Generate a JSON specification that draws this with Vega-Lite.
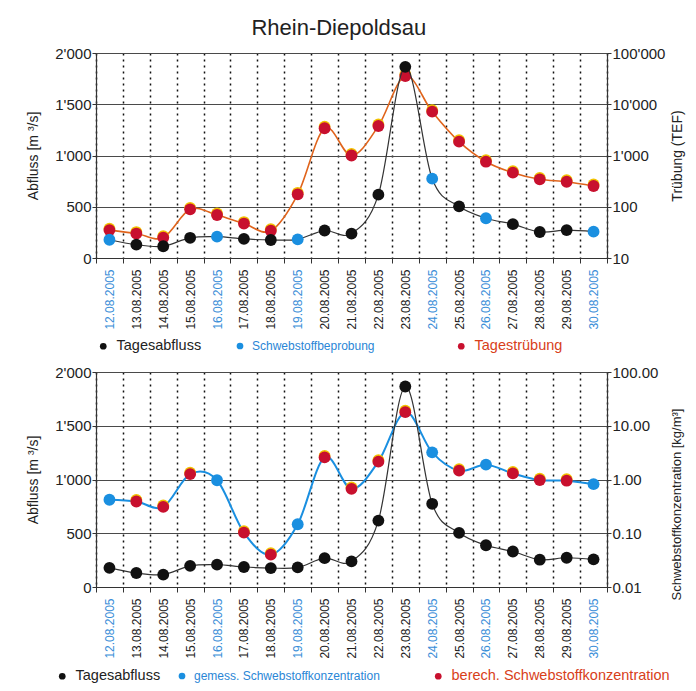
{
  "$schema": "https://vega.github.io/schema/vega-lite/v6.json",
  "background": "white",
  "padding": {"left": 26, "top": 17, "right": 5, "bottom": 5},
  "title": {"text": "Rhein-Diepoldsau", "fontSize": 22, "font": "Liberation Sans", "fontWeight": "normal", "anchor": "middle", "color": "#222222", "offset": 6, "dx": -17},
  "datasets": {
    "tage": [
      {"tag": "12.08.2005", "abfluss": 178, "truebung": 35, "konzentration": 0.42, "messung": "gemessen"},
      {"tag": "13.08.2005", "abfluss": 130, "truebung": 30, "konzentration": 0.39, "messung": "berechnet"},
      {"tag": "14.08.2005", "abfluss": 115, "truebung": 25, "konzentration": 0.31, "messung": "berechnet"},
      {"tag": "15.08.2005", "abfluss": 197, "truebung": 89, "konzentration": 1.26, "messung": "berechnet"},
      {"tag": "16.08.2005", "abfluss": 208, "truebung": 69, "konzentration": 0.97, "messung": "gemessen"},
      {"tag": "17.08.2005", "abfluss": 186, "truebung": 47, "konzentration": 0.103, "messung": "berechnet"},
      {"tag": "18.08.2005", "abfluss": 176, "truebung": 34, "konzentration": 0.04, "messung": "berechnet"},
      {"tag": "19.08.2005", "abfluss": 182, "truebung": 175, "konzentration": 0.147, "messung": "gemessen"},
      {"tag": "20.08.2005", "abfluss": 268, "truebung": 3400, "konzentration": 2.58, "messung": "berechnet"},
      {"tag": "21.08.2005", "abfluss": 238, "truebung": 1000, "konzentration": 0.67, "messung": "berechnet"},
      {"tag": "22.08.2005", "abfluss": 618, "truebung": 3770, "konzentration": 2.15, "messung": "berechnet"},
      {"tag": "23.08.2005", "abfluss": 1865, "truebung": 35600, "konzentration": 17.9, "messung": "berechnet"},
      {"tag": "24.08.2005", "abfluss": 774, "truebung": 7160, "konzentration": 3.2, "messung": "gemessen"},
      {"tag": "25.08.2005", "abfluss": 504, "truebung": 1860, "konzentration": 1.46, "messung": "berechnet"},
      {"tag": "26.08.2005", "abfluss": 388, "truebung": 757, "konzentration": 1.89, "messung": "gemessen"},
      {"tag": "27.08.2005", "abfluss": 330, "truebung": 462, "konzentration": 1.3, "messung": "berechnet"},
      {"tag": "28.08.2005", "abfluss": 254, "truebung": 343, "konzentration": 0.975, "messung": "berechnet"},
      {"tag": "29.08.2005", "abfluss": 272, "truebung": 308, "konzentration": 0.95, "messung": "berechnet"},
      {"tag": "30.08.2005", "abfluss": 257, "truebung": 254, "konzentration": 0.82, "messung": "gemessen"}
    ]
  },
  "data": {"name": "tage"},
  "spacing": 12,
  "vconcat": [
    {
      "width": 511,
      "height": 205,
      "encoding": {
        "x": {
          "field": "tag", "type": "ordinal",
          "scale": {"type": "band", "paddingInner": 0, "paddingOuter": 0,
            "domain": ["12.08.2005","13.08.2005","14.08.2005","15.08.2005","16.08.2005","17.08.2005","18.08.2005","19.08.2005","20.08.2005","21.08.2005","22.08.2005","23.08.2005","24.08.2005","25.08.2005","26.08.2005","27.08.2005","28.08.2005","29.08.2005","30.08.2005"]},
          "axis": {
            "title": null, "labelAngle": 270, "labelFontSize": 12, "tickBand": "extent", "tickSize": 5, "labelPadding": 6,
            "grid": true, "gridDash": [2, 4], "gridColor": "#111111", "gridWidth": 1.5,
            "labelColor": {"condition": {"test": "indexof(['12.08.2005','16.08.2005','19.08.2005','24.08.2005','26.08.2005','30.08.2005'], datum.value) >= 0", "value": "#3a8ed8"}, "value": "#222222"}
          }
        }
      },
      "layer": [
        {
          "encoding": {
            "y": {"field": "truebung", "type": "quantitative",
              "scale": {"type": "log", "domain": [10, 100000]},
              "axis": {"orient": "right", "values": [10, 100, 1000, 10000, 100000], "grid": false,
                "labelExpr": "replace(format(datum.value, ','), ',', \"'\")",
                "title": "Trübung (TEF)", "titleAngle": 270, "titleFontSize": 14, "titlePadding": 20}}
          },
          "layer": [
            {"mark": {"type": "line", "color": "#e0641c", "strokeWidth": 1.6, "interpolate": "cardinal"}},
            {"mark": {"type": "circle", "size": 140, "color": "#f2c200", "opacity": 1}, "encoding": {"yOffset": {"value": -1.5}}},
            {"mark": {"type": "point", "filled": true, "size": 140, "color": "#c8102e", "opacity": 1},
              "encoding": {"shape": {"datum": "Tagestrübung", "scale": {"range": ["circle"]},
                "legend": {"orient": "none", "legendX": 358, "legendY": 286, "title": null, "symbolFillColor": "#c8102e", "symbolStrokeWidth": 0, "symbolSize": 45, "labelFontSize": 14.5, "labelColor": "#d8401a", "labelOffset": 6}}}}
          ]
        },
        {
          "encoding": {
            "y": {"field": "abfluss", "type": "quantitative",
              "scale": {"domain": [0, 2000]},
              "axis": {"orient": "left", "values": [0, 500, 1000, 1500, 2000], "grid": true,
                "labelExpr": "replace(format(datum.value, ','), ',', \"'\")",
                "title": "Abfluss [m ³/s]", "titlePadding": 14}}
          },
          "layer": [
            {"mark": {"type": "line", "color": "#333333", "strokeWidth": 1.2, "interpolate": "cardinal"}},
            {"transform": [{"filter": "datum.messung == 'berechnet'"}],
              "mark": {"type": "circle", "size": 140, "opacity": 1},
              "encoding": {"color": {"datum": "Tagesabfluss",
                "scale": {"domain": ["Tagesabfluss"], "range": ["#111111"]},
                "legend": {"orient": "none", "legendX": 0, "legendY": 286, "title": null, "symbolType": "circle", "symbolSize": 45, "symbolStrokeWidth": 0, "labelOffset": 6, "labelFontSize": 14.5, "labelColor": "#222222"}}}},
            {"transform": [{"filter": "datum.messung == 'gemessen'"}],
              "mark": {"type": "circle", "size": 140, "color": "#1a8fe0"},
              "encoding": {"opacity": {"datum": "Schwebstoffbeprobung", "scale": {"range": [1]},
                "legend": {"orient": "none", "legendX": 138, "legendY": 287, "title": null, "symbolType": "circle", "symbolFillColor": "#1a8fe0", "symbolSize": 45, "symbolStrokeWidth": 0, "labelOffset": 6, "labelFontSize": 12, "labelColor": "#2a86d6"}}}}
          ]
        }
      ],
      "resolve": {"scale": {"y": "independent"}}
    },
    {
      "width": 511,
      "height": 215,
      "encoding": {
        "x": {
          "field": "tag", "type": "ordinal",
          "scale": {"type": "band", "paddingInner": 0, "paddingOuter": 0,
            "domain": ["12.08.2005","13.08.2005","14.08.2005","15.08.2005","16.08.2005","17.08.2005","18.08.2005","19.08.2005","20.08.2005","21.08.2005","22.08.2005","23.08.2005","24.08.2005","25.08.2005","26.08.2005","27.08.2005","28.08.2005","29.08.2005","30.08.2005"]},
          "axis": {
            "title": null, "labelAngle": 270, "labelFontSize": 12, "tickBand": "extent", "tickSize": 5, "labelPadding": 6,
            "grid": true, "gridDash": [2, 4], "gridColor": "#111111", "gridWidth": 1.5,
            "labelColor": {"condition": {"test": "indexof(['12.08.2005','16.08.2005','19.08.2005','24.08.2005','26.08.2005','30.08.2005'], datum.value) >= 0", "value": "#3a8ed8"}, "value": "#222222"}
          }
        }
      },
      "layer": [
        {
          "encoding": {
            "y": {"field": "konzentration", "type": "quantitative",
              "scale": {"type": "log", "domain": [0.01, 100]},
              "axis": {"orient": "right", "values": [0.01, 0.1, 1, 10, 100], "grid": false, "format": ".2f",
                "title": "Schwebstoffkonzentration  [kg/m³]", "titleAngle": 270, "titleFontSize": 13, "titleY": 132, "titlePadding": 26}}
          },
          "layer": [
            {"mark": {"type": "line", "color": "#1a8fe0", "strokeWidth": 2, "interpolate": "cardinal"}},
            {"transform": [{"filter": "datum.messung == 'gemessen'"}],
              "mark": {"type": "circle", "size": 140, "color": "#1a8fe0"},
              "encoding": {"opacity": {"datum": "gemess. Schwebstoffkonzentration", "scale": {"range": [1]},
                "legend": {"orient": "none", "legendX": 80, "legendY": 298, "title": null, "symbolType": "circle", "symbolFillColor": "#1a8fe0", "symbolSize": 45, "symbolStrokeWidth": 0, "labelOffset": 6, "labelFontSize": 12, "labelColor": "#2a86d6", "labelLimit": 400}}}},
            {"transform": [{"filter": "datum.messung == 'berechnet'"}],
              "mark": {"type": "circle", "size": 140, "color": "#f2c200", "opacity": 1}, "encoding": {"yOffset": {"value": -1.5}}},
            {"transform": [{"filter": "datum.messung == 'berechnet'"}],
              "mark": {"type": "point", "filled": true, "size": 140, "color": "#c8102e", "opacity": 1},
              "encoding": {"shape": {"datum": "berech. Schwebstoffkonzentration", "scale": {"range": ["circle"]},
                "legend": {"orient": "none", "legendX": 335, "legendY": 297, "title": null, "symbolFillColor": "#c8102e", "symbolStrokeWidth": 0, "symbolSize": 45, "labelFontSize": 14.5, "labelColor": "#d8401a", "labelOffset": 6, "labelLimit": 400}}}}
          ]
        },
        {
          "encoding": {
            "y": {"field": "abfluss", "type": "quantitative",
              "scale": {"domain": [0, 2000]},
              "axis": {"orient": "left", "values": [0, 500, 1000, 1500, 2000], "grid": true,
                "labelExpr": "replace(format(datum.value, ','), ',', \"'\")",
                "title": "Abfluss [m ³/s]", "titlePadding": 14}}
          },
          "layer": [
            {"mark": {"type": "line", "color": "#333333", "strokeWidth": 1.2, "interpolate": "cardinal"}},
            {"mark": {"type": "circle", "size": 140, "opacity": 1},
              "encoding": {"color": {"datum": "Tagesabfluss",
                "scale": {"domain": ["Tagesabfluss"], "range": ["#111111"]},
                "legend": {"orient": "none", "legendX": -41, "legendY": 297, "title": null, "symbolType": "circle", "symbolSize": 45, "symbolStrokeWidth": 0, "labelOffset": 6, "labelFontSize": 14.5, "labelColor": "#222222"}}}}
          ]
        }
      ],
      "resolve": {"scale": {"y": "independent"}}
    }
  ],
  "resolve": {"scale": {"color": "independent", "shape": "independent", "opacity": "independent"}, "legend": {"color": "independent", "shape": "independent", "opacity": "independent"}},
  "config": {
    "font": "Liberation Sans",
    "view": {"stroke": null},
    "axis": {
      "labelFont": "Liberation Sans", "labelFontSize": 15, "labelColor": "#222222", "labelPadding": 1,
      "titleFont": "Liberation Sans", "titleFontSize": 14, "titleFontWeight": "normal", "titleColor": "#222222",
      "domainColor": "#333333", "domainWidth": 1.2, "tickColor": "#333333", "tickSize": 4,
      "gridColor": "#4a4a4a", "gridWidth": 1
    },
    "legend": {"labelFont": "Liberation Sans"}
  }
}
